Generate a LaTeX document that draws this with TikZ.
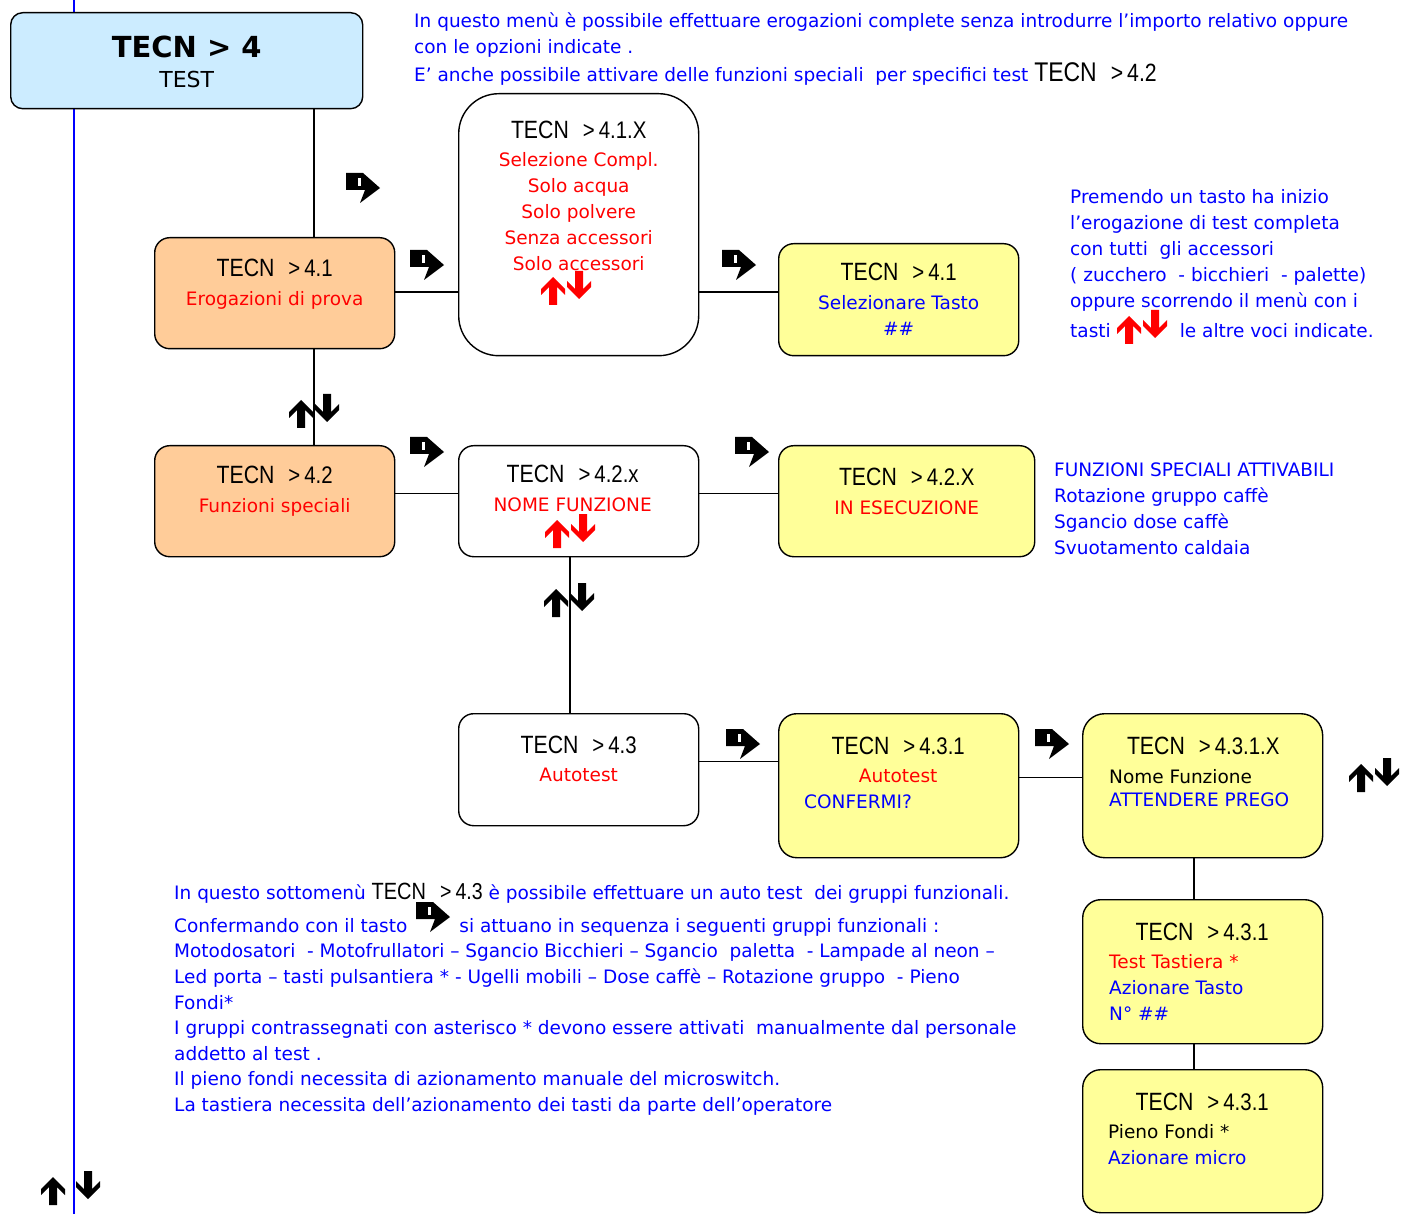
\documentclass[tikz,border=0pt]{standalone}
\usepackage{fontspec}
\newfontfamily\bodyfont{DejaVu Sans}
\newfontfamily\titlefont{Liberation Sans}[FakeStretch=0.85]
\usetikzlibrary{positioning}

\definecolor{boxblue}{HTML}{CCECFF}
\definecolor{boxorange}{HTML}{FFCC99}
\definecolor{boxyellow}{HTML}{FFFF99}
\definecolor{txtblue}{HTML}{0000FF}
\definecolor{txtred}{HTML}{FF0000}

% menu title: TECN > n
\newcommand{\tecnat}[3]{{\color{black}\titlefont\fontsize{#1}{26}\selectfont TECN\hspace{14pt}{\fontsize{#2}{26}\selectfont >\hspace{4pt}#3}}}
\newcommand{\tecn}[1]{\tecnat{25}{24}{#1}}

\begin{document}
\begin{tikzpicture}[x=1pt, y=-1pt,
    menubox/.style={draw=black, line width=1.4pt, rounded corners=15pt, anchor=north west, inner sep=0pt},
    conn/.style={draw=black, line width=1.4pt},
    boxtext/.style={align=center, inner sep=0pt, font=\bodyfont\fontsize{18.5}{26}\selectfont},
    note/.style={align=left, inner sep=0pt, anchor=north west, text=txtblue, font=\bodyfont\fontsize{18.5}{26}\selectfont},
    uparr/.pic={\fill (0,-14) -- (12,-2) -- (12,4) -- (4,-4) -- (4,14) -- (-4,14) -- (-4,-4) -- (-12,4) -- (-12,-2) -- cycle;},
    downarr/.pic={\fill (0,14) -- (12,2) -- (12,-4) -- (4,4) -- (4,-14) -- (-4,-14) -- (-4,4) -- (-12,-4) -- (-12,2) -- cycle;},
    updown/.pic={\pic at (-13,3) {uparr}; \pic at (13,-3) {downarr};},
    turnarr/.pic={\fill (-17,-15) -- (0,-15) -- (17,0) -- (-3,15) -- (2,2) -- (-17,2) -- cycle;
                  \fill[white] (-5,-10) rectangle (-2,-2);}
  ]
  \useasboundingbox (0,0) rectangle (1414,1214);

  % --- blue guide line ---
  \coordinate (vtop) at (74,0);
  \coordinate (vbot) at (74,1214);
  \draw[txtblue, line width=1.4pt] (vtop) -- (vbot);

  % --- menu boxes ---
  \node[menubox, fill=boxblue, minimum width=352pt, minimum height=96pt, rounded corners=12pt] (b4) at (10,12) {};
  \node[menubox, fill=boxorange, minimum width=240pt, minimum height=111pt] (b41) at (154,237) {};
  \node[menubox, fill=white, minimum width=240pt, minimum height=262pt, rounded corners=40pt] (b41x) at (458,93) {};
  \node[menubox, fill=boxyellow, minimum width=240pt, minimum height=112pt] (b41s) at (778,243) {};
  \node[menubox, fill=boxorange, minimum width=240pt, minimum height=111pt] (b42) at (154,445) {};
  \node[menubox, fill=white, minimum width=240pt, minimum height=111pt] (b42x) at (458,445) {};
  \node[menubox, fill=boxyellow, minimum width=256pt, minimum height=111pt] (b42r) at (778,445) {};
  \node[menubox, fill=white, minimum width=240pt, minimum height=112pt] (b43) at (458,713) {};
  \node[menubox, fill=boxyellow, minimum width=240pt, minimum height=144pt, rounded corners=18pt] (b431) at (778,713) {};
  \node[menubox, fill=boxyellow, minimum width=240pt, minimum height=144pt, rounded corners=22pt] (b431x) at (1082,713) {};
  \node[menubox, fill=boxyellow, minimum width=240pt, minimum height=144pt, rounded corners=18pt] (b431t) at (1082,899) {};
  \node[menubox, fill=boxyellow, minimum width=240pt, minimum height=143pt, rounded corners=18pt] (b431p) at (1082,1069) {};

  % --- connectors ---
  \coordinate (xa) at (314,0);
  \coordinate (xb) at (570,0);
  \coordinate (xc) at (1194,0);
  \draw[conn] (b4.south -| xa) -- (b41.north -| xa);
  \draw[conn] (b41.south -| xa) -- (b42.north -| xa);
  \draw[conn] ([yshift=1pt]b41.east) -- ([yshift=1pt]b41.east -| b41x.west);
  \draw[conn] ([yshift=1pt]b41.east -| b41x.east) -- ([yshift=1pt]b41.east -| b41s.west);
  \draw[conn] ([yshift=8pt]b42.east) -- ([yshift=8pt]b42.east -| b42x.west);
  \draw[conn] ([yshift=8pt]b42x.east) -- ([yshift=8pt]b42x.east -| b42r.west);
  \draw[conn] (b42x.south -| xb) -- (b43.north -| xb);
  \draw[conn] ([yshift=8pt]b43.east) -- ([yshift=8pt]b43.east -| b431.west);
  \draw[conn] ([yshift=8pt]b431.east) -- ([yshift=8pt]b431.east -| b431x.west);
  \draw[conn] (b431x.south -| xc) -- (b431t.north -| xc);
  \draw[conn] (b431t.south -| xc) -- (b431p.north -| xc);

  % --- box texts ---
  \node[boxtext] (lbl4) at ([yshift=-1pt]b4.center) {{\bfseries\fontsize{29}{34}\selectfont TECN > 4}\\[4pt]{\fontsize{22}{30}\selectfont TEST}};
  \node[boxtext, text=txtred] (lbl41) at ([yshift=9pt]b41.center) {\tecn{4.1}\\[3pt]Erogazioni di prova};
  \node[boxtext, text=txtred, below=28pt of b41x.north] (lbl41x) {\tecn{4.1.X}\\[2pt]Selezione Compl.\\Solo acqua\\Solo polvere\\Senza accessori\\Solo accessori};
  \node[boxtext, text=txtblue] (lbl41s) at (b41s.center) {\tecn{4.1}\\[3pt]Selezionare Tasto\\{\itshape\#\#}};
  \node[boxtext, text=txtred] (lbl42) at ([yshift=10pt]b42.center) {\tecn{4.2}\\[3pt]Funzioni speciali};
  \node[boxtext, text=txtred] (lbl42x) at ([xshift=-6pt, yshift=13pt]b42x.center) {\tecn{4.2.x}\\[3pt]NOME FUNZIONE};
  \node[boxtext, text=txtred] (lbl42r) at ([yshift=10pt]b42r.center) {\tecn{4.2.X}\\[3pt]IN ESECUZIONE};
  \node[boxtext, text=txtred] (lbl43) at ([yshift=11pt]b43.center) {\tecn{4.3}\\[2pt]Autotest};
  \node[boxtext, align=left, anchor=north west] (lbl431) at (804,737) {\makebox[188pt]{\tecn{4.3.1}}\\[2pt]\makebox[188pt]{\textcolor{txtred}{Autotest}}\\\textcolor{txtblue}{CONFERMI?}};
  \node[boxtext, align=left, anchor=north west] (lbl431x) at (1109,737) {\makebox[188pt]{\tecn{4.3.1.X}}\\[3pt]Nome Funzione\\[-3pt]\textcolor{txtblue}{ATTENDERE PREGO}};
  \node[boxtext, align=left, anchor=north west] (lbl431t) at (1109,923) {\makebox[186pt]{\tecn{4.3.1}}\\[2pt]\textcolor{txtred}{Test Tastiera *}\\\textcolor{txtblue}{Azionare Tasto}\\\textcolor{txtblue}{N° \#\#}};
  \node[boxtext, align=left, anchor=north west] (lbl431p) at (1108,1093) {\makebox[188pt]{\tecn{4.3.1}}\\[2pt]Pieno Fondi *\\\textcolor{txtblue}{Azionare micro}};

  % --- notes ---
  \node[note] (ntop) at (414,13) {In questo menù è possibile effettuare erogazioni complete senza introdurre l’importo relativo oppure\\con le opzioni indicate .\\[2pt]E’ anche possibile attivare delle funzioni speciali\ \ per specifici test \tecnat{27}{25}{4.2}};
  \node[note] (nright) at (1070,189) {Premendo un tasto ha inizio\\l’erogazione di test completa\\con tutti\ \ gli accessori\\( zucchero\ \ - bicchieri\ \ - palette)\\oppure scorrendo il menù con i\\[4pt]tasti\hspace{69pt}le altre voci indicate.};
  \node[note] (nspec) at (1054,463) {FUNZIONI SPECIALI ATTIVABILI\\Rotazione gruppo caffè\\Sgancio dose caffè\\Svuotamento caldaia};
  \node[note, font=\bodyfont\fontsize{18.5}{25.6}\selectfont] (nbottom) at (174,883) {In questo sottomenù \tecnat{23.5}{23}{4.3} è possibile effettuare un auto test\ \ dei gruppi funzionali.\\[7pt]Confermando con il tasto\hspace{52pt}si attuano in sequenza i seguenti gruppi funzionali :\\Motodosatori\ \ - Motofrullatori – Sgancio Bicchieri – Sgancio\ \ paletta\ \ - Lampade al neon –\\Led porta – tasti pulsantiera * - Ugelli mobili – Dose caffè – Rotazione gruppo\ \ - Pieno\\Fondi*\\I gruppi contrassegnati con asterisco * devono essere attivati\ \ manualmente dal personale\\addetto al test .\\Il pieno fondi necessita di azionamento manuale del microswitch.\\La tastiera necessita dell’azionamento dei tasti da parte dell’operatore};

  % --- confirm arrows ---
  \foreach \p in {(363,188), (427,265), (739,265), (427,452), (752,452), (743,744), (1052,744), (433,917)}
    \pic at \p {turnarr};

  % --- scroll arrows ---
  \foreach \p in {(314,411), (569,600), (1374,775)}
    \pic at \p {updown};
  \pic at (53,1191) {uparr};
  \pic at (88,1185) {downarr};
  \foreach \p in {(566,288), (570,531), (1142,327)}
    \pic[txtred] at \p {updown};
\end{tikzpicture}
\end{document}
